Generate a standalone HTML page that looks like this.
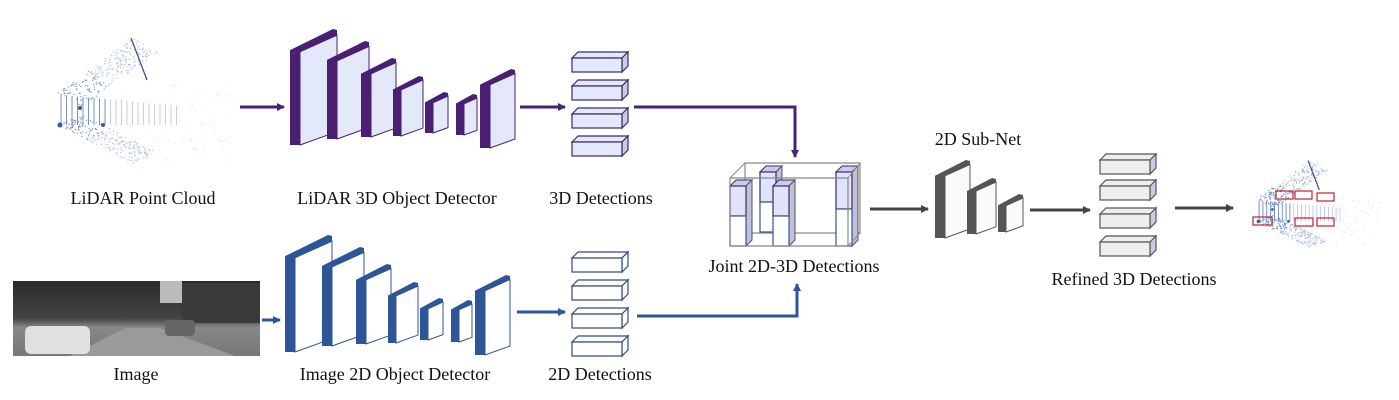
<!DOCTYPE html><html><head><meta charset="utf-8"><style>
body{margin:0;background:#fff;width:1399px;height:400px;overflow:hidden}
svg{display:block}
text{font-family:"Liberation Serif",serif;font-size:18px;fill:#111;text-anchor:middle}
</style></head><body>
<svg id="s" width="1399" height="400" xmlns="http://www.w3.org/2000/svg">
<defs>
<marker id="ap" markerWidth="8" markerHeight="8" refX="7" refY="4" orient="auto" markerUnits="userSpaceOnUse"><path d="M0,0 L8,4 L0,8z" fill="#4a2070"/></marker>
<marker id="ab" markerWidth="8" markerHeight="8" refX="7" refY="4" orient="auto" markerUnits="userSpaceOnUse"><path d="M0,0 L8,4 L0,8z" fill="#2e5597"/></marker>
<marker id="ag" markerWidth="8" markerHeight="8" refX="7" refY="4" orient="auto" markerUnits="userSpaceOnUse"><path d="M0,0 L8,4 L0,8z" fill="#444"/></marker>
<linearGradient id="road" x1="0" y1="0" x2="0" y2="1"><stop offset="0" stop-color="#2a2a2a"/><stop offset="0.5" stop-color="#444"/><stop offset="0.62" stop-color="#888"/><stop offset="1" stop-color="#777"/></linearGradient>
</defs>
<g id="gg"></g>
<rect x="13" y="281" width="247" height="75" fill="url(#road)"/>
<rect x="182" y="283" width="78" height="40" fill="#3a3a3a"/>
<rect x="160" y="281" width="22" height="22" fill="#bbb"/>
<polygon points="70,356 125,328 160,328 235,356" fill="#9a9a9a"/>
<rect x="25" y="326" width="65" height="28" rx="6" fill="#e0e0e0"/>
<rect x="165" y="320" width="30" height="16" rx="4" fill="#666"/>
<text x="143" y="204">LiDAR Point Cloud</text>
<text x="397" y="204">LiDAR 3D Object Detector</text>
<text x="601" y="204">3D Detections</text>
<text x="794" y="272">Joint 2D-3D Detections</text>
<text x="978" y="145">2D Sub-Net</text>
<text x="1134" y="285">Refined 3D Detections</text>
<text x="136" y="380">Image</text>
<text x="395" y="380">Image 2D Object Detector</text>
<text x="600" y="380">2D Detections</text>
<g fill="none" stroke-width="3">
<line x1="240" y1="107" x2="284" y2="107" stroke="#4a2070" marker-end="url(#ap)"/>
<line x1="520" y1="107" x2="565" y2="107" stroke="#4a2070" marker-end="url(#ap)"/>
<polyline points="634,107 795,107 795,157" stroke="#4a2070" marker-end="url(#ap)"/>
<line x1="262" y1="320" x2="280" y2="320" stroke="#2e5597" marker-end="url(#ab)"/>
<line x1="517" y1="312" x2="565" y2="312" stroke="#2e5597" marker-end="url(#ab)"/>
<polyline points="637,316 797,316 797,284" stroke="#2e5597" marker-end="url(#ab)"/>
<line x1="870" y1="209" x2="928" y2="209" stroke="#444" marker-end="url(#ag)"/>
<line x1="1030" y1="210" x2="1090" y2="210" stroke="#444" marker-end="url(#ag)"/>
<line x1="1175" y1="208" x2="1233" y2="208" stroke="#444" marker-end="url(#ag)"/>
</g>
</svg>
<script>
(function(){
var G=document.getElementById('gg'),NS='http://www.w3.org/2000/svg';
function P(pts,fill,stroke,sw){var p=document.createElementNS(NS,'polygon');p.setAttribute('points',pts.map(function(a){return a.join(',');}).join(' '));p.setAttribute('fill',fill);if(stroke){p.setAttribute('stroke',stroke);p.setAttribute('stroke-width',sw||1.2);}G.appendChild(p);}
function R(x,y,w,h,f,s){var r=document.createElementNS(NS,'rect');r.setAttribute('x',x);r.setAttribute('y',y);r.setAttribute('width',w);r.setAttribute('height',h);r.setAttribute('fill',f);if(s){r.setAttribute('stroke',s);r.setAttribute('stroke-width',1.2);}G.appendChild(r);}
function C(x,y,r,f){var c=document.createElementNS(NS,'circle');c.setAttribute('cx',x);c.setAttribute('cy',y);c.setAttribute('r',r);c.setAttribute('fill',f);G.appendChild(c);}
function Ln(x1,y1,x2,y2,s,w){var L=document.createElementNS(NS,'line');L.setAttribute('x1',x1);L.setAttribute('y1',y1);L.setAttribute('x2',x2);L.setAttribute('y2',y2);L.setAttribute('stroke',s);L.setAttribute('stroke-width',w||1);G.appendChild(L);}
function block(x0,x1,yt,yb,dark,front,d){var w=x1-x0,s=0.45,t=Math.max(4,w*0.13);
var ftl=yt+t+s*(w-d);
P([[x0,yt+s*w],[x1-4,yt],[x1,yt+1],[x1,yt+t],[x0+d,ftl],[x0+d,yb],[x0,yb]],dark);
P([[x0+d,ftl],[x1,yt+t],[x1,yb-s*(w-d)*0.8],[x0+d,yb]],front,dark,1);}
var blocks=[[290,337,29,145],[327,369,41,139],[361,396,58,137],[393,423,76,136],[425,448,92,133],[456,477,94,135],[480,515,69,148]];
blocks.forEach(function(b){block(b[0],b[1],b[2],b[3],'#4a1f72','#e3e8fa',b[1]-b[0]>30?10:8);});
blocks.forEach(function(b){block(b[0]-5,b[1]-5,b[2]+206,b[3]+207,'#2e5597','#ffffff',b[1]-b[0]>30?10:8);});
block(935,970,160,238,'#555','#fafafa',10);block(967,996,178,234,'#555','#fafafa',9);block(998,1023,194,232,'#555','#fafafa',8);
function det(x,y,fill,st){P([[x,y+6],[x+6,y],[x+56,y],[x+50,y+6]],fill,st);P([[x+50,y+6],[x+56,y],[x+56,y+14],[x+50,y+20]],fill==='#fff'?'#fff':'#c9cce6',st);R(x,y+6,50,14,fill,st);}
[52,80,108,136].forEach(function(y){det(572,y,'#e3e8fa','#3a2a6a');});
[252,280,308,336].forEach(function(y){det(572,y,'#fff','#2e4a86');});
[154,180,208,236].forEach(function(y){det(1100,y,'#eee','#555');});
P([[745,163],[860,163],[860,233],[745,233]],'none','#888');
function col(x,yt,yb,w){var m=(yt+yb)/2;P([[x,yt],[x+6,yt-6],[x+w+6,yt-6],[x+w,yt]],'#c9cce6','#3a2a6a',1);P([[x+w,yt],[x+w+6,yt-6],[x+w+6,yb-6],[x+w,yb]],'#c0c0d8','#555',1);R(x,yt,w,m-yt,'#dfe4f7','#3a2a6a');R(x,m,w,yb-m,'#fff','#2e5597');}
col(760,172,232,16);col(730,186,246,16);col(773,186,246,16);col(836,172,246,16);
P([[730,178],[848,178],[848,246],[730,246]],'none','#888');
Ln(730,178,745,163,'#888');Ln(848,178,860,163,'#888');Ln(848,246,860,233,'#888');
var seed=7;function rnd(){seed=(seed*16807)%2147483647;return seed/2147483647;}
function cloud(ox,oy,s){
 for(var i=0;i<22;i++){var x=ox+3*s+i*5.5*s;var h=(28-i*0.5)*s;Ln(x,oy-h,x,oy+2*s,i<9?'#5a78bc':'#b4c2e4',0.8);}
 for(var k=0;k<260;k++){var u=rnd(),v=rnd();var x=ox+u*75*s+v*25*s,y=oy-30*s-u*55*s+v*14*s;C(x,y,0.6,u<0.4?'#6a86c4':'#a8b8dc');}
 for(var k=0;k<220;k++){var u=rnd(),v=rnd();var x=ox+u*75*s+v*25*s,y=oy+2*s+u*38*s-v*10*s;C(x,y,0.6,u<0.4?'#6a86c4':'#a8b8dc');}
 for(var k=0;k<100;k++){var x=ox+60*s+rnd()*115*s,y=oy-40*s+rnd()*80*s;C(x,y,0.5,'#c8d2ea');}
 C(ox+2*s,oy+2*s,2.5*s,'#3a5aa0');C(ox+22*s,oy-15*s,2*s,'#3a5aa0');C(ox+45*s,oy+2*s,2*s,'#3a5aa0');
 Ln(ox+73*s,oy-85*s,ox+89*s,oy-43*s,'#3a4a90',1.2);}
cloud(58,123,1);cloud(1257,220,0.7);
[[1276,191,17,8],[1295,191,17,8],[1317,193,17,8],[1253,217,19,8],[1295,218,18,8],[1317,218,17,8]].forEach(function(b){R(b[0],b[1],b[2],b[3],'none','#c0202a');});
})();
</script>
</body></html>
